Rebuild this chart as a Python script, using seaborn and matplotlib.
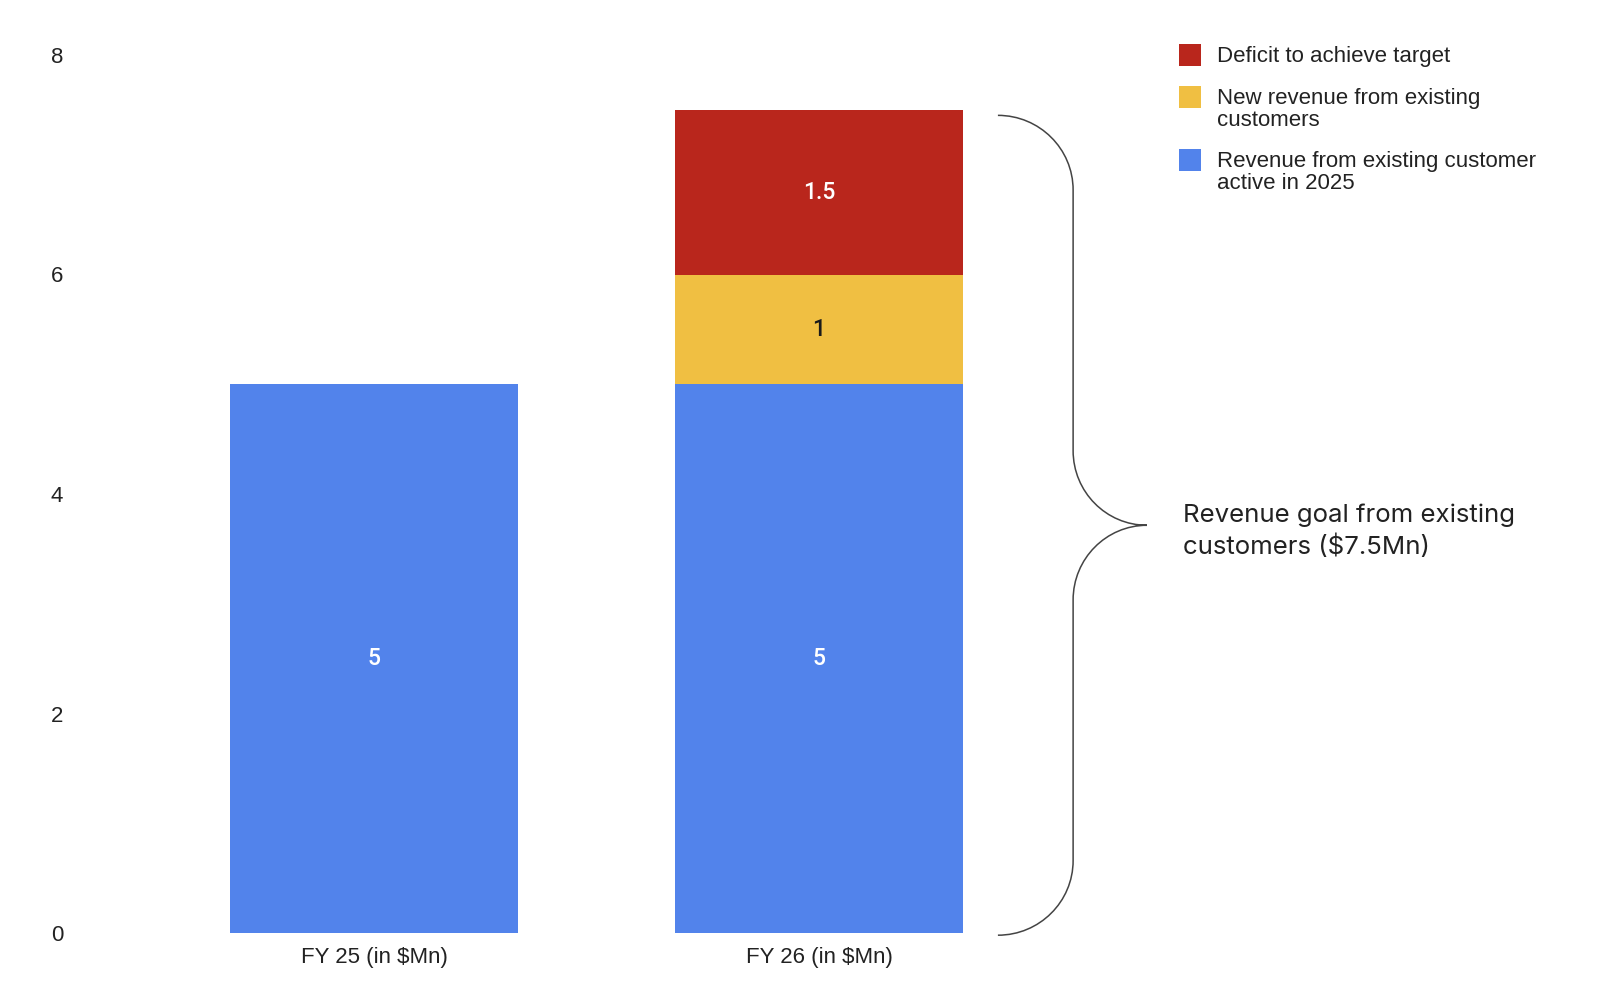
import matplotlib
matplotlib.use("Agg")
import matplotlib.pyplot as plt
from matplotlib.patches import Rectangle, PathPatch
from matplotlib.path import Path
import seaborn as sns

# data
categories = ["FY 25 (in $Mn)", "FY 26 (in $Mn)"]
existing_rev = [5, 5]
new_rev = [0, 1]
deficit = [0, 1.5]

legend_labels = ["Deficit to achieve target",
                 "New revenue from existing\ncustomers",
                 "Revenue from existing customer\nactive in 2025"]
legend_colors = ["#B9261C", "#F0BF42", "#5283EB"]
goal_text = "Revenue goal from existing\ncustomers ($7.5Mn)"
y_ticks = [0, 2, 4, 6, 8]

sns.set_theme(style="white")
plt.rcParams['font.family'] = ['Liberation Sans', 'DejaVu Sans']

W, H = 1600, 992
fig = plt.figure(figsize=(W / 100, H / 100), dpi=100)
ax = fig.add_axes([80 / W, (H - 933) / H, 1 - 80 / W, 878 / H])

bar_w = 0.647
new_bottom = existing_rev
deficit_bottom = [a + b for a, b in zip(existing_rev, new_rev)]

layers = [
    (existing_rev, [0, 0], "#5283EB", "white"),
    (new_rev, new_bottom, "#F0BF42", "#1a1a1a"),
    (deficit, deficit_bottom, "#B9261C", "white"),
]
for vals, bottom, col, txt_col in layers:
    sns.barplot(x=categories, y=vals, bottom=bottom, color=col, width=bar_w,
                saturation=1, errorbar=None, linewidth=0, ax=ax)
    ax.bar_label(ax.containers[-1], labels=[f"{v:g}" if v else "" for v in vals],
                 label_type="center", color=txt_col, fontsize=16.5,
                 fontweight="medium", family=["Roboto", "DejaVu Sans"])

ax.set_xlim(-0.6607, 2.755)
ax.set_ylim(0, 8)
ax.set_yticks(y_ticks)
ax.set_xlabel("")
ax.set_ylabel("")
sns.despine(ax=ax, left=True, bottom=True)
ax.tick_params(axis="both", length=0, labelsize=16, colors="#222222")
ax.tick_params(axis="y", pad=12)
ax.tick_params(axis="x", pad=10)

# curly bracket around the FY 26 stack
top = deficit_bottom[1] + deficit[1] - 0.05
bot = -0.02
mid = (top + bot) / 2
x0, x1, xt = 1.402, 1.571, 1.737
r = 0.68
k = 0.5523
verts = [
    (x0, top),
    (x0 + k * (x1 - x0), top), (x1, top - (1 - k) * r), (x1, top - r),
    (x1, mid + r),
    (x1, mid + (1 - k) * r), (xt - k * (xt - x1), mid), (xt, mid),
    (xt - k * (xt - x1), mid), (x1, mid - (1 - k) * r), (x1, mid - r),
    (x1, bot + r),
    (x1, bot + (1 - k) * r), (x0 + k * (x1 - x0), bot), (x0, bot),
]
codes = [Path.MOVETO,
         Path.CURVE4, Path.CURVE4, Path.CURVE4,
         Path.LINETO,
         Path.CURVE4, Path.CURVE4, Path.CURVE4,
         Path.CURVE4, Path.CURVE4, Path.CURVE4,
         Path.LINETO,
         Path.CURVE4, Path.CURVE4, Path.CURVE4]
ax.add_patch(PathPatch(Path(verts, codes), facecolor="none", edgecolor="#444444",
                       linewidth=1.1, clip_on=False))

ax.text(1.818, 3.66, goal_text, ha="left", va="center", fontsize=18.6,
        family=["Inter", "DejaVu Sans"], color="#222222", linespacing=1.38)

# legend
sq_tops = [44, 86, 149]
for lab, col, t in zip(legend_labels, legend_colors, sq_tops):
    fig.add_artist(Rectangle((1179 / W, 1 - (t + 22) / H), 22 / W, 22 / H,
                             transform=fig.transFigure, facecolor=col,
                             edgecolor="none"))
    fig.text(1217 / W, 1 - (t + 2) / H, lab, ha="left", va="top", fontsize=16,
             color="#222222", linespacing=1.05)

fig.savefig("out.png", dpi=100)
